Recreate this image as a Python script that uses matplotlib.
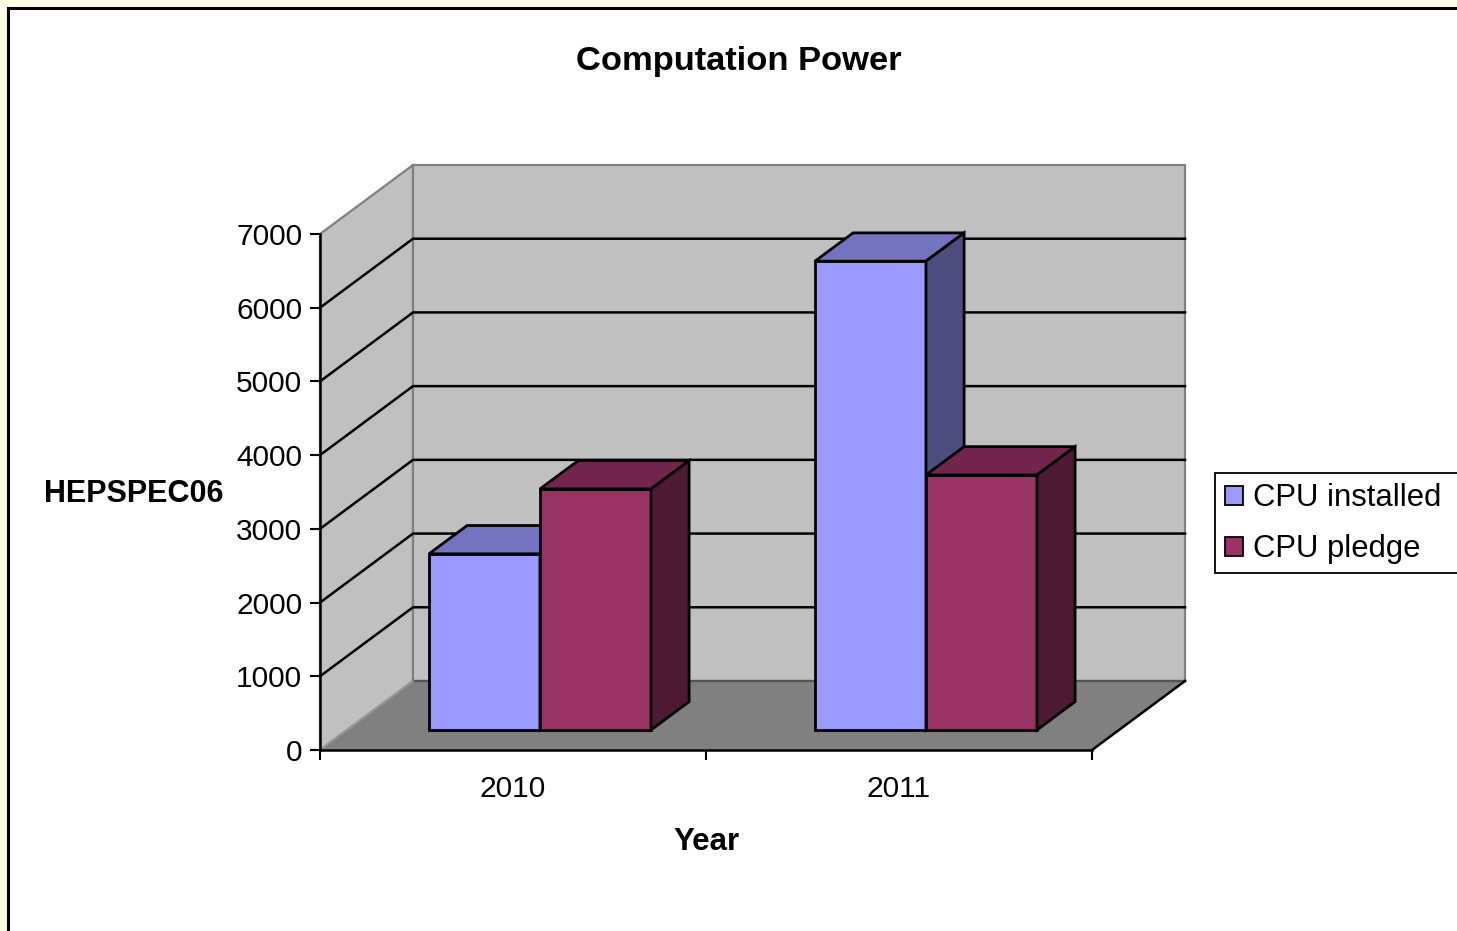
import matplotlib
matplotlib.use("Agg")
import matplotlib.pyplot as plt
from matplotlib.patches import Polygon, Rectangle, Patch

plt.rcParams['font.family'] = ['Liberation Sans', 'DejaVu Sans']

# ---- data ----
years = ["2010", "2011"]
series_names = ["CPU installed", "CPU pledge"]
cpu_installed = [2390, 6360]
cpu_pledge = [3270, 3460]
y_ticks = [0, 1000, 2000, 3000, 4000, 5000, 6000, 7000]
title = "Computation Power"
xlabel = "Year"
ylabel = "HEPSPEC06"

# ---- style ----
front_cols = ["#9999FF", "#993366"]
top_cols = ["#7373BF", "#73264D"]
side_cols = ["#4D4D80", "#4D1933"]
W, H = 1457, 931
FS = 21.5

fig = plt.figure(figsize=(W / 100, H / 100), dpi=100)
fig.patch.set_facecolor("#FFFFE6")
fig.patches.append(Rectangle((8 / W, -0.1), 1.2, 1 - 8 / H + 0.1, transform=fig.transFigure,
                             facecolor="white", edgecolor="black", linewidth=2.2, zorder=-5))

ax = fig.add_axes([320 / W, (H - 750) / H, 772 / W, 516 / H])
ax.patch.set_visible(False)
ymax = y_ticks[-1]
ncat = len(years)
ax.set_xlim(0, ncat)
ax.set_ylim(0, ymax)

# oblique depth offsets (data units for a full depth of 1)
DX = 93 / 772 * ncat
DY = 69 / 516 * ymax


def P(x, v, d):
    return (x + d * DX, v + d * DY)


def poly(pts, **kw):
    ax.add_patch(Polygon(pts, closed=True, clip_on=False, **kw))


# walls
poly([P(0, 0, 0), P(0, ymax, 0), P(0, ymax, 1), P(0, 0, 1)],
     facecolor="#C0C0C0", edgecolor="#808080", linewidth=1.6, zorder=0.5)
poly([P(0, 0, 1), P(ncat, 0, 1), P(ncat, ymax, 1), P(0, ymax, 1)],
     facecolor="#C0C0C0", edgecolor="#808080", linewidth=1.6, zorder=0.5)
# gridlines
for v in y_ticks[1:-1]:
    xs, ys = zip(P(0, v, 0), P(0, v, 1), P(ncat, v, 1))
    ax.plot(xs, ys, color="black", linewidth=1.8, zorder=0.6, clip_on=False)
# floor
poly([P(0, 0, 0), P(ncat, 0, 0), P(ncat, 0, 1), P(0, 0, 1)],
     facecolor="#808080", edgecolor="none", zorder=0.7)
xs, ys = zip(P(0, 0, 1), P(ncat, 0, 1))
ax.plot(xs, ys, color="#555555", linewidth=1.6, zorder=0.75, clip_on=False)
xs, ys = zip(P(0, 0, 0), P(0, 0, 1))
ax.plot(xs, ys, color="#9A9A9A", linewidth=1.2, zorder=0.75, clip_on=False)
xs, ys = zip(P(ncat, 0, 0), P(ncat, 0, 1))
ax.plot(xs, ys, color="black", linewidth=1.8, zorder=0.75, clip_on=False)

# bars
nser = 2
gap = 0.425
bw = (1 - gap) / nser
d0, d1 = 0.29, 0.70
series = [cpu_installed, cpu_pledge]
z = 2
for i in range(ncat):
    for s in range(nser):
        v = series[s][i]
        x0 = i + gap / 2 + s * bw
        x1 = x0 + bw
        kw = dict(edgecolor="black", linewidth=2.0, joinstyle="miter")
        poly([P(x0, 0, d0), P(x1, 0, d0), P(x1, v, d0), P(x0, v, d0)],
             facecolor=front_cols[s], zorder=z, **kw)
        poly([P(x0, v, d0), P(x1, v, d0), P(x1, v, d1), P(x0, v, d1)],
             facecolor=top_cols[s], zorder=z, **kw)
        poly([P(x1, 0, d0), P(x1, 0, d1), P(x1, v, d1), P(x1, v, d0)],
             facecolor=side_cols[s], zorder=z, **kw)
        z += 0.1

# axes / ticks
for sp in ["top", "right"]:
    ax.spines[sp].set_visible(False)
for sp in ["left", "bottom"]:
    ax.spines[sp].set_linewidth(1.8)
    ax.spines[sp].set_zorder(5)
ax.set_yticks(y_ticks)
ax.set_yticklabels([str(t) for t in y_ticks], fontsize=FS)
ax.tick_params(axis="y", direction="out", length=7.2, width=1.5, pad=5.5)
ax.set_xticks(range(ncat + 1))
ax.set_xticklabels([""] * (ncat + 1))
ax.set_xticks([i + 0.5 for i in range(ncat)], minor=True)
ax.set_xticklabels(years, minor=True, fontsize=FS)
ax.tick_params(axis="x", which="major", direction="out", length=7.2, width=1.5)
ax.tick_params(axis="x", which="minor", length=0, pad=18)

fig.text(739 / W, 1 - 70 / H, title, fontsize=24.8, fontweight="bold", ha="center", va="baseline")
fig.text(134 / W, 1 - 502 / H, ylabel, fontsize=22, fontweight="bold", ha="center", va="baseline")
fig.text(706 / W, 1 - 850 / H, xlabel, fontsize=22.5, fontweight="bold", ha="center", va="baseline")

# legend (frame drawn separately so it runs off the right edge like the original)
fig.patches.append(Rectangle((1215 / W, 1 - 573 / H), 300 / W, 100 / H, transform=fig.transFigure,
                             facecolor="white", edgecolor="black", linewidth=1.3, zorder=-1))
handles = [Patch(facecolor=front_cols[s], edgecolor="black", linewidth=1.3, label=series_names[s])
           for s in range(nser)]
leg = ax.legend(handles=handles, loc="upper left", bbox_to_anchor=(1215 / W, 1 - 473 / H),
                bbox_transform=fig.transFigure, borderaxespad=0, fontsize=22.3,
                frameon=False, handlelength=0.58, handleheight=0.58, handletextpad=0.33,
                borderpad=0.33, labelspacing=0.68)
leg.set_zorder(10)

fig.savefig("out.png", dpi=100)
